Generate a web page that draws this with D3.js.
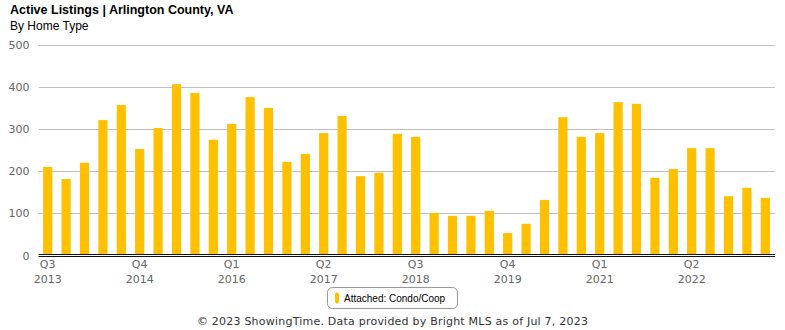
<!DOCTYPE html>
<html>
<head>
<meta charset="utf-8">
<script src="https://cdn.jsdelivr.net/npm/d3@7"></script>
<style>
  html, body { margin: 0; padding: 0; background: #fff; }
  svg { display: block; }
</style>
</head>
<body>
<svg id="chart" width="785" height="330"></svg>
<script>
// Quarterly active listings, Q3 2013 through Q2 2023
const quarters = [
  "Q3 2013","Q4 2013","Q1 2014","Q2 2014","Q3 2014","Q4 2014","Q1 2015","Q2 2015",
  "Q3 2015","Q4 2015","Q1 2016","Q2 2016","Q3 2016","Q4 2016","Q1 2017","Q2 2017",
  "Q3 2017","Q4 2017","Q1 2018","Q2 2018","Q3 2018","Q4 2018","Q1 2019","Q2 2019",
  "Q3 2019","Q4 2019","Q1 2020","Q2 2020","Q3 2020","Q4 2020","Q1 2021","Q2 2021",
  "Q3 2021","Q4 2021","Q1 2022","Q2 2022","Q3 2022","Q4 2022","Q1 2023","Q2 2023"
];
const condoCoop = [
  209, 180, 219, 321, 357, 252, 302, 407,
  386, 274, 312, 376, 350, 221, 240, 290,
  331, 187, 195, 288, 281, 99, 92, 92,
  104, 51, 73, 130, 328, 281, 290, 364,
  360, 183, 204, 254, 254, 139, 159, 135
];
const yTicks = [0, 100, 200, 300, 400, 500];
// every fifth quarter carries a label
const labeledQuarters = ["Q3 2013","Q4 2014","Q1 2016","Q2 2017","Q3 2018","Q4 2019","Q1 2021","Q2 2022"];

const svg = d3.select("#chart");
const plotLeft = 38.5, plotRight = 774.5, plotTop = 45.3, plotBottom = 254.3;

const x = d3.scaleBand().domain(quarters).range([plotLeft, plotRight])
  .paddingInner(0.5).paddingOuter(0.25);
const y = d3.scaleLinear().domain([0, 500]).range([plotBottom, plotTop]);

// title
svg.append("text").attr("x", 10).attr("y", 14)
  .attr("font-family", "Liberation Sans, Arial, sans-serif")
  .attr("font-size", 12.5).attr("font-weight", "bold").attr("fill", "#000")
  .text("Active Listings | Arlington County, VA");
svg.append("text").attr("x", 10).attr("y", 30)
  .attr("font-family", "Liberation Sans, Arial, sans-serif")
  .attr("font-size", 12).attr("fill", "#000")
  .text("By Home Type");

// gridlines
svg.append("g").selectAll("line").data(yTicks.filter(d => d > 0)).join("line")
  .attr("x1", plotLeft).attr("x2", plotRight + 0.5)
  .attr("y1", d => Math.round(y(d)) + 0.5).attr("y2", d => Math.round(y(d)) + 0.5)
  .attr("stroke", "#c0c0c0").attr("stroke-width", 1);

// y axis labels
const yAxis = svg.append("g").attr("transform", `translate(${plotLeft},0)`)
  .call(d3.axisLeft(y).tickValues(yTicks).tickSize(0).tickPadding(9));
yAxis.select(".domain").remove();
yAxis.selectAll("text")
  .attr("font-family", "DejaVu Sans, sans-serif").attr("font-size", 11)
  .attr("fill", "#666");
yAxis.selectAll(".tick").filter(d => d === 0).select("text").attr("dy", "0.5em");

// bars
svg.append("g").selectAll("rect").data(condoCoop).join("rect")
  .attr("x", (d, i) => x(quarters[i]))
  .attr("width", x.bandwidth())
  .attr("y", d => y(d))
  .attr("height", d => y(0) - y(d))
  .attr("fill", "#FFC000");

// baseline (double rule)
[0, 2].forEach(off => {
  svg.append("line")
    .attr("x1", plotLeft).attr("x2", plotRight + 0.5)
    .attr("y1", 254.5 + off).attr("y2", 254.5 + off)
    .attr("stroke", "#111").attr("stroke-width", 1);
});

// x axis labels, two lines each
const xAxis = svg.append("g").attr("transform", `translate(0,${plotBottom})`)
  .call(d3.axisBottom(x).tickValues(labeledQuarters).tickSize(0).tickPadding(0));
xAxis.select(".domain").remove();
xAxis.selectAll("text").each(function(d) {
  const [q, yr] = d.split(" ");
  const t = d3.select(this).text(null).attr("y", 0).attr("dy", null)
    .attr("font-family", "DejaVu Sans, sans-serif").attr("font-size", 11)
    .attr("fill", "#666");
  t.append("tspan").attr("x", 0).attr("y", 14).text(q);
  t.append("tspan").attr("x", 0).attr("y", 29).text(yr);
});

// legend
const legend = svg.append("g");
legend.append("rect").attr("x", 327.5).attr("y", 287.5).attr("width", 130).attr("height", 21)
  .attr("rx", 5).attr("fill", "#fff").attr("stroke", "#999").attr("stroke-width", 1);
legend.append("rect").attr("x", 335).attr("y", 292.5).attr("width", 4).attr("height", 11)
  .attr("rx", 2).attr("fill", "#FFC000");
legend.append("text").attr("x", 344).attr("y", 302)
  .attr("font-family", "Liberation Sans, Arial, sans-serif").attr("font-size", 10)
  .attr("fill", "#000").text("Attached: Condo/Coop");

// footer
svg.append("text").attr("x", 392.5).attr("y", 325).attr("text-anchor", "middle")
  .attr("font-family", "DejaVu Sans, sans-serif").attr("font-size", 11)
  .attr("letter-spacing", 0.22).attr("fill", "#333")
  .text("\u00A9 2023 ShowingTime. Data provided by Bright MLS as of Jul 7, 2023");
</script>
</body>
</html>
